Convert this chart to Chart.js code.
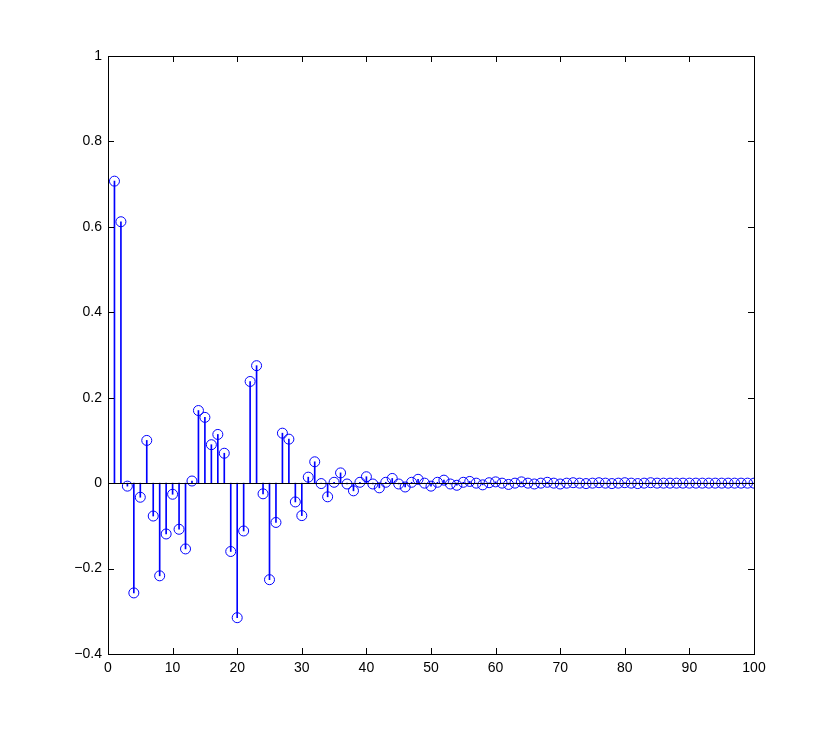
<!DOCTYPE html>
<html>
<head>
<meta charset="utf-8">
<script src="https://cdn.jsdelivr.net/npm/chart.js@4/dist/chart.umd.min.js"></script>
<style>
  html, body { margin: 0; padding: 0; background: #fff; }
  #wrap { width: 830px; height: 737px; }
</style>
</head>
<body>
<div id="wrap"><canvas id="stem-chart"></canvas></div>
<script>
// sample index n = 1..100
var nValues = [];
for (var i = 1; i <= 100; i++) nValues.push(i);

var hValues = [
  0.707, 0.612, -0.007, -0.257, -0.033, 0.100, -0.077, -0.217, -0.119, -0.026,
  -0.108, -0.154, 0.005, 0.170, 0.154, 0.090, 0.114, 0.070, -0.160, -0.315,
  -0.112, 0.238, 0.275, -0.025, -0.226, -0.092, 0.117, 0.103, -0.044, -0.076,
  0.014, 0.050, -0.001, -0.032, 0.002, 0.024, -0.002, -0.018, 0.002, 0.015,
  -0.002, -0.011, 0.002, 0.011, -0.002, -0.009, 0.002, 0.009, 0.000, -0.007,
  0.002, 0.007, -0.002, -0.005, 0.002, 0.004, 0.000, -0.004, 0.001, 0.003,
  0.000, -0.003, 0.000, 0.003, 0.000, -0.002, 0.000, 0.002, 0.000, -0.002,
  0.000, 0.001, 0.000, -0.001, 0.000, 0.001, 0.000, -0.001, 0.000, 0.001,
  0.000, -0.001, 0.000, 0.001, 0.000, 0.000, 0.000, 0.000, 0.000, 0.000,
  0.000, 0.000, 0.000, 0.000, 0.000, 0.000, 0.000, 0.000, 0.000, 0.000
];

var xTicks = [0, 10, 20, 30, 40, 50, 60, 70, 80, 90, 100];
var yTicks = [-0.4, -0.2, 0, 0.2, 0.4, 0.6, 0.8, 1];

var points = nValues.map(function (n, k) { return { x: n, y: hValues[k] }; });

function yLabel(v) {
  if (Math.abs(v) < 1e-9) return "0";
  if (Math.abs(v - 1) < 1e-9) return "1";
  var s = Math.abs(v).toFixed(1);
  return (v < 0 ? "\u2212" : "") + s;
}

// axes box, inner ticks and zero baseline, like a matlab figure
var boxPlugin = {
  id: "box",
  afterDatasetsDraw: function (chart) {
    var c = chart.ctx, a = chart.chartArea;
    var xs = chart.scales.x, ys = chart.scales.y;
    c.save();
    c.strokeStyle = "#000";
    c.lineWidth = 1;
    var y0 = Math.round(ys.getPixelForValue(0)) + 0.5;
    c.beginPath();
    c.moveTo(a.left, y0);
    c.lineTo(a.right, y0);
    c.stroke();
    c.strokeRect(Math.round(a.left) + 0.5, Math.round(a.top) + 0.5,
                 Math.round(a.right - a.left), Math.round(a.bottom - a.top));
    c.beginPath();
    xTicks.forEach(function (t) {
      var px = Math.round(xs.getPixelForValue(t)) + 0.5;
      c.moveTo(px, a.bottom); c.lineTo(px, a.bottom - 6);
      c.moveTo(px, a.top); c.lineTo(px, a.top + 6);
    });
    yTicks.forEach(function (t) {
      var py = Math.round(ys.getPixelForValue(t)) + 0.5;
      c.moveTo(a.left, py); c.lineTo(a.left + 6, py);
      c.moveTo(a.right, py); c.lineTo(a.right - 6, py);
    });
    c.stroke();
    c.restore();
  }
};

new Chart("stem-chart", {
  data: {
    datasets: [{
      type: "bar",
      data: points,
      backgroundColor: "#0000ff",
      barThickness: 1,
      order: 2
    }, {
      type: "scatter",
      data: points,
      pointStyle: "circle",
      pointRadius: 5,
      pointBorderWidth: 1,
      pointBorderColor: "#0000ff",
      pointBackgroundColor: "rgba(0,0,0,0)",
      order: 1
    }]
  },
  options: {
    responsive: true,
    maintainAspectRatio: false,
    animation: false,
    layout: { padding: { top: 56, right: 76, left: 0, bottom: 0 } },
    plugins: { legend: { display: false }, tooltip: { enabled: false } },
    scales: {
      x: {
        type: "linear",
        min: 0, max: 100,
        offset: false,
        grid: { display: false, drawTicks: false },
        border: { display: false },
        afterBuildTicks: function (s) { s.ticks = xTicks.map(function (v) { return { value: v }; }); },
        afterFit: function (s) { s.height = 83; },
        ticks: {
          padding: 6,
          color: "#000",
          maxRotation: 0,
          autoSkip: false,
          font: { family: "Liberation Sans, Arial, sans-serif", size: 14 }
        }
      },
      y: {
        type: "linear",
        min: -0.4, max: 1,
        grid: { display: false, drawTicks: false },
        border: { display: false },
        afterBuildTicks: function (s) { s.ticks = yTicks.map(function (v) { return { value: v }; }); },
        afterFit: function (s) { s.width = 108; },
        ticks: {
          padding: 6,
          color: "#000",
          autoSkip: false,
          font: { family: "Liberation Sans, Arial, sans-serif", size: 14 },
          callback: function (v) { return yLabel(v); }
        }
      }
    }
  },
  plugins: [boxPlugin]
});
</script>
</body>
</html>
